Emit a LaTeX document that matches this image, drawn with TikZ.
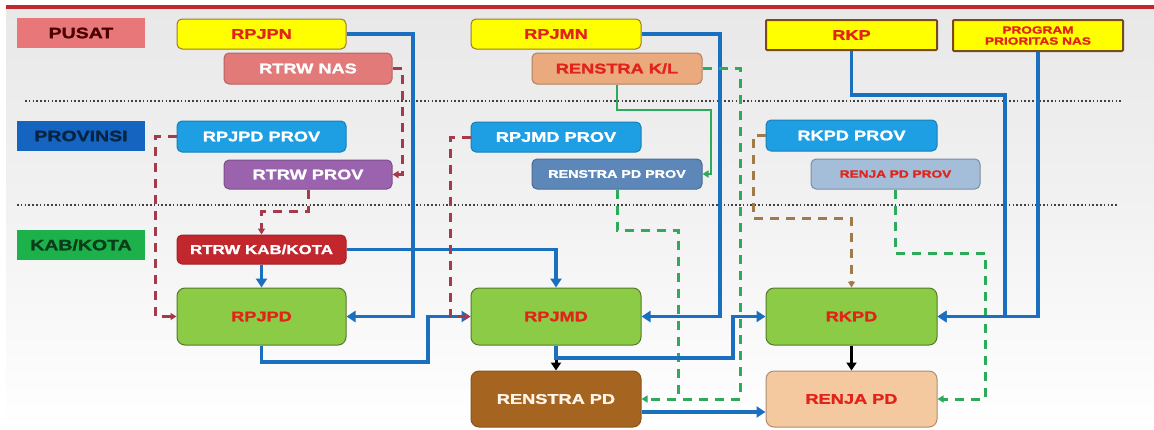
\documentclass[tikz,border=0pt]{standalone}
\usepackage{fontspec}
\setmainfont{Liberation Sans}[FakeStretch=1.3, BoldFeatures={FakeBold=1.5}]
\usetikzlibrary{arrows.meta}
\definecolor{ylw}{HTML}{FFFF00}
\definecolor{ylwb}{HTML}{9A7A2A}
\definecolor{brd}{HTML}{7A4A1A}
\definecolor{txtred}{HTML}{E2231A}
\definecolor{pusatc}{HTML}{E8777A}
\definecolor{provc}{HTML}{1565C0}
\definecolor{kabc}{HTML}{1DB14B}
\definecolor{nasc}{HTML}{E37A7A}
\definecolor{cyanc}{HTML}{1E9FE3}
\definecolor{purc}{HTML}{9B63AE}
\definecolor{kabred}{HTML}{C1272D}
\definecolor{grnc}{HTML}{8CCB45}
\definecolor{klc}{HTML}{EBAA7E}
\definecolor{steelc}{HTML}{5C87B8}
\definecolor{brownc}{HTML}{A5641F}
\definecolor{lsteel}{HTML}{A4BDD8}
\definecolor{peachc}{HTML}{F4C9A0}
\definecolor{bline}{HTML}{1A6FBF}
\definecolor{drc}{HTML}{A53A4A}
\definecolor{gdc}{HTML}{2EAA5A}
\definecolor{tdc}{HTML}{A27A4A}
\tikzset{
  box/.style={draw, rounded corners=5pt, line width=1pt, inner sep=0pt, align=center,
              font=\fontsize{14}{16}\selectfont\bfseries},
  lbl/.style={inner sep=0pt, minimum width=128pt, minimum height=30pt,
              font=\fontsize{15}{17}\selectfont\bfseries},
  ybox/.style={box, fill=ylw, draw=ylwb, text=txtred},
  sqbox/.style={box, rounded corners=1pt, fill=ylw, draw=brd, line width=2pt, text=txtred},
  gbox/.style={box, fill=grnc, draw=grnc!60!black, text=txtred, rounded corners=8pt},
  bl/.style={draw=bline, line width=3.6pt, -{Triangle[length=9pt,width=11pt]}},
  blk/.style={draw=black, line width=3pt, -{Triangle[length=8pt,width=10pt]}},
  dsh/.style={line width=3pt, dash pattern=on 9pt off 7pt},
  dtip/.style={-{Triangle[length=6pt,width=7pt]}},
  dr/.style={draw=drc, dsh, dtip},
  gd/.style={draw=gdc, dsh, dtip},
  gdn/.style={draw=gdc, dsh},
  gs/.style={draw=gdc, line width=2.8pt, dtip},
  td/.style={draw=tdc, dsh, dtip},
  sep/.style={draw=black!75, line width=1.6pt, dash pattern=on 1.6pt off 2.2pt}
}
\begin{document}
\begin{tikzpicture}[x=1pt,y=-1pt]
\useasboundingbox (0,0) rectangle (1154,429);
\fill[white] (0,0) rectangle (1154,429);
\shade[top color=black!9, bottom color=white, middle color=black!5] (6,9) rectangle (1154,429);
\fill[kabred] (6,4.5) rectangle (1154,9);
% separators
\draw[sep] (25,101) -- (1122,101);
\draw[sep] (17,205) -- (1117,205);
% level labels
\node[lbl, fill=pusatc, text=black!70!red] (pusat) at (81,33) {PUSAT};
\node[lbl, fill=provc, text=provc!35!black] (prov) at (81,136) {PROVINSI};
\node[lbl, fill=kabc, text=kabc!35!black] (kab) at (81,245) {KAB/KOTA};
% column 1
\node[ybox, minimum width=169pt, minimum height=30pt] (rpjpn) at (261.5,34) {RPJPN};
\node[box, fill=nasc, draw=nasc!80!black, text=white, minimum width=168pt, minimum height=31pt] (rtrwnas) at (308,68.5) {RTRW NAS};
\node[box, fill=cyanc, draw=cyanc!80!black, text=white, minimum width=169pt, minimum height=31pt] (rpjpdprov) at (261.5,136.5) {RPJPD PROV};
\node[box, fill=purc, draw=purc!80!black, text=white, minimum width=168pt, minimum height=29pt] (rtrwprov) at (308,174.5) {RTRW PROV};
\node[box, fill=kabred, draw=kabred!85!black, text=white, minimum width=169pt, minimum height=29pt, font=\fontsize{13}{15}\selectfont\bfseries] (rtrwkab) at (261.5,249.5) {RTRW KAB/KOTA};
\node[gbox, minimum width=169pt, minimum height=57pt] (rpjpd) at (261.5,316.5) {RPJPD};
% column 2
\node[ybox, minimum width=170pt, minimum height=30pt] (rpjmn) at (556,34) {RPJMN};
\node[box, fill=klc, draw=klc!75!black, text=txtred, minimum width=170pt, minimum height=31pt] (renstrakl) at (617,68.5) {RENSTRA K/L};
\node[box, fill=cyanc, draw=cyanc!80!black, text=white, minimum width=170pt, minimum height=30pt] (rpjmdprov) at (556,137) {RPJMD PROV};
\node[box, fill=steelc, draw=steelc!80!black, text=white, minimum width=170pt, minimum height=30pt, font=\fontsize{11}{13}\selectfont\bfseries] (renstrapdprov) at (617,174) {RENSTRA PD PROV};
\node[gbox, minimum width=170pt, minimum height=57pt] (rpjmd) at (556,316.5) {RPJMD};
\node[box, fill=brownc, draw=brownc!85!black, text=white!92!orange, minimum width=170pt, minimum height=56pt, rounded corners=8pt] (renstrapd) at (556,399) {RENSTRA PD};
% column 3
\node[sqbox, minimum width=171pt, minimum height=30pt] (rkp) at (851.5,35) {RKP};
\node[sqbox, minimum width=170pt, minimum height=31pt, font=\fontsize{10.5}{11}\selectfont\bfseries] (ppn) at (1038,35.5) {PROGRAM\\PRIORITAS NAS};
\node[box, fill=cyanc, draw=cyanc!80!black, text=white, minimum width=171pt, minimum height=31pt] (rkpdprov) at (851.5,135.5) {RKPD PROV};
\node[box, fill=lsteel, draw=lsteel!75!black, text=txtred, minimum width=169pt, minimum height=30pt, font=\fontsize{10.5}{12}\selectfont\bfseries] (renjapdprov) at (895.5,174) {RENJA PD PROV};
\node[gbox, minimum width=171pt, minimum height=57pt] (rkpd) at (851.5,316.5) {RKPD};
\node[box, fill=peachc, draw=peachc!70!black, text=txtred, minimum width=171pt, minimum height=56pt, rounded corners=8pt] (renjapd) at (851.5,399) {RENJA PD};
% connectors: dashed red
\draw[dr] (rtrwnas.east) -- (402,68.5) |- (rtrwprov.east);
\draw[dr] (rtrwprov.south) |- (261.5,211) -- (rtrwkab.north);
\draw[dr] (rpjpdprov.west) -- (155,136.5) |- (rpjpd.west);
% blue
\draw[bl] (rpjpn.east) -- (413,34) |- (rpjpd.east);
\draw[bl] (rtrwkab.south) -- (rpjpd.north);
\draw[bl] (rtrwkab.east) -| (rpjmd.north);
\draw[bl] (rpjpd.south) |- (428,362) |- (rpjmd.west);
\draw[dr] (rpjmdprov.west) -- (450,137) |- (rpjmd.west);
\draw[bl] (rpjmn.east) -- (720,34) |- (rpjmd.east);
% green
\draw[gs] (renstrakl.south) |- (711,110) |- (renstrapdprov.east);
\draw[gdn] (renstrapdprov.south) |- (678,230) -- (678,399);
\draw[gd] (renstrakl.east) -- (740,68.5) |- (renstrapd.east);
% RPJMD outputs
\draw[blk] (rpjmd.south) -- (renstrapd.north);
\draw[bl] (rpjmd.south) |- (733,358) |- (rkpd.west);
\draw[bl] ([yshift=-13pt]renstrapd.east) -- ([yshift=-13pt]renjapd.west);
% column 3 connectors
\draw[td] (rkpdprov.west) -- (753,135.5) |- (851.5,218) -- (rkpd.north);
\draw[gd] (renjapdprov.south) |- (985,253) |- (renjapd.east);
\draw[bl] (rkp.south) |- (1005,95) |- (rkpd.east);
\draw[bl] (ppn.south) |- (rkpd.east);
\draw[blk] (rkpd.south) -- (renjapd.north);
\end{tikzpicture}
\end{document}
